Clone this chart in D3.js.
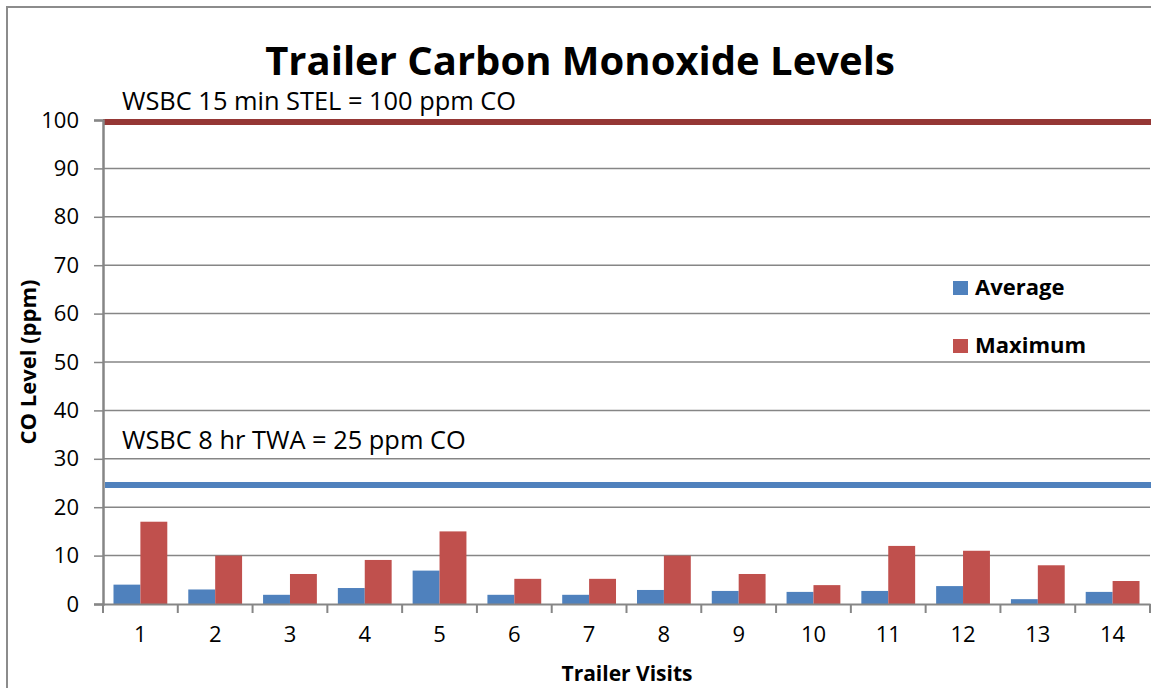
<!DOCTYPE html>
<html><head><meta charset="utf-8">
<script src="https://cdn.jsdelivr.net/npm/d3@7"></script>
<style>body{margin:0;background:#fff}svg{display:block}</style>
</head><body>
<svg id="c" width="1151" height="688"></svg>
<script>
const categories = ["1","2","3","4","5","6","7","8","9","10","11","12","13","14"];
const averageValues = [4, 3, 1.9, 3.3, 6.9, 1.9, 1.9, 2.9, 2.7, 2.5, 2.7, 3.7, 1.0, 2.5];
const maximumValues = [17, 10, 6.2, 9.1, 15, 5.2, 5.2, 10, 6.2, 3.9, 12, 11, 8, 4.75];
const seriesNames = ["Average", "Maximum"];
const yTicks = [0,10,20,30,40,50,60,70,80,90,100];
const limits = [
  {label: "WSBC 15 min STEL = 100 ppm CO", value: 100},
  {label: "WSBC 8 hr TWA = 25 ppm CO", value: 25}
];

const FONT = "'Open Sans',sans-serif";
const colors = {Average: "#4F81BD", Maximum: "#C0504D"};
const limitColors = ["#953735", "#4F81BD"];

const svg = d3.select("#c");
const m = {left: 103, right: 1151, top: 120, bottom: 604};

// frame
svg.append("rect").attr("x", 7).attr("y", 7).attr("width", 1160).attr("height", 700)
  .attr("fill", "none").attr("stroke", "#8c8c8c").attr("stroke-width", 2);

const x = d3.scaleBand().domain(categories).range([m.left, 1150]);
const xi = d3.scaleBand().domain(seriesNames).range([0, x.bandwidth()]).paddingInner(0).paddingOuter(0.39);
const y = d3.scaleLinear().domain([0, 100]).range([m.bottom, m.top]);

// gridlines
svg.append("g").selectAll("line").data(yTicks.filter(d => d > 0)).join("line")
  .attr("x1", m.left).attr("x2", 1150).attr("y1", d => y(d)).attr("y2", d => y(d))
  .attr("stroke", "#868686").attr("stroke-width", 1.5);

// bars
const g = svg.append("g");
categories.forEach((c, i) => {
  const vals = [averageValues[i], maximumValues[i]];
  g.selectAll(null).data(seriesNames).enter().append("rect")
    .attr("x", s => x(c) + xi(s))
    .attr("width", xi.bandwidth())
    .attr("y", (s, j) => y(vals[j]))
    .attr("height", (s, j) => y(0) - y(vals[j]))
    .attr("fill", s => colors[s]);
});

// limit lines
limits.forEach((l, i) => {
  svg.append("line").attr("x1", m.left + (i ? 2 : 0)).attr("x2", 1151)
    .attr("y1", y(l.value) + 2).attr("y2", y(l.value) + 2)
    .attr("stroke", limitColors[i]).attr("stroke-width", 6);
  svg.append("text").attr("x", 122).attr("y", y(l.value) + (i ? -34 : -10))
    .attr("font-family", FONT).attr("font-size", 25.4).attr("fill", "#000")
    .text(l.label);
});

// y axis
const yAxis = d3.axisLeft(y).tickValues(yTicks).tickSize(9).tickPadding(15);
const ya = svg.append("g").attr("transform", `translate(${m.left},0)`).call(yAxis);
ya.select(".domain").attr("stroke", "#868686").attr("stroke-width", 2.5);
ya.selectAll(".tick line").attr("stroke", "#868686").attr("stroke-width", 1.5);
ya.selectAll("text").attr("font-family", FONT).attr("font-size", 22).attr("fill", "#000");

// x axis
const xAxis = d3.axisBottom(x).tickSize(0).tickPadding(22);
const xa = svg.append("g").attr("transform", `translate(0,${m.bottom})`).call(xAxis);
xa.select(".domain").attr("stroke", "#868686").attr("stroke-width", 2);
xa.selectAll("text").attr("font-family", FONT).attr("font-size", 22).attr("fill", "#000");
xa.selectAll(".bt").data(categories.concat(["end"])).join("line")
  .attr("x1", (d, i) => m.left + i * x.step()).attr("x2", (d, i) => m.left + i * x.step())
  .attr("y1", 0).attr("y2", 9).attr("stroke", "#868686").attr("stroke-width", 2);

// titles
svg.append("text").attr("x", 580).attr("y", 75).attr("text-anchor", "middle")
  .attr("font-family", FONT).attr("font-weight", "bold").attr("font-size", 40)
  .text("Trailer Carbon Monoxide Levels");
svg.append("text").attr("transform", "translate(36,362) rotate(-90)").attr("text-anchor", "middle")
  .attr("font-family", FONT).attr("font-weight", "bold").attr("font-size", 22)
  .text("CO Level (ppm)");
svg.append("text").attr("x", 627).attr("y", 681).attr("text-anchor", "middle")
  .attr("font-family", FONT).attr("font-weight", "bold").attr("font-size", 21)
  .text("Trailer Visits");

// legend
const lg = svg.append("g");
seriesNames.forEach((s, i) => {
  lg.append("rect").attr("x", 953).attr("y", 281 + i * 58).attr("width", 15).attr("height", 14).attr("fill", colors[s]);
  lg.append("text").attr("x", 975).attr("y", 295 + i * 58)
    .attr("font-family", FONT).attr("font-weight", "bold").attr("font-size", 22).text(s);
});
</script>
</body></html>
